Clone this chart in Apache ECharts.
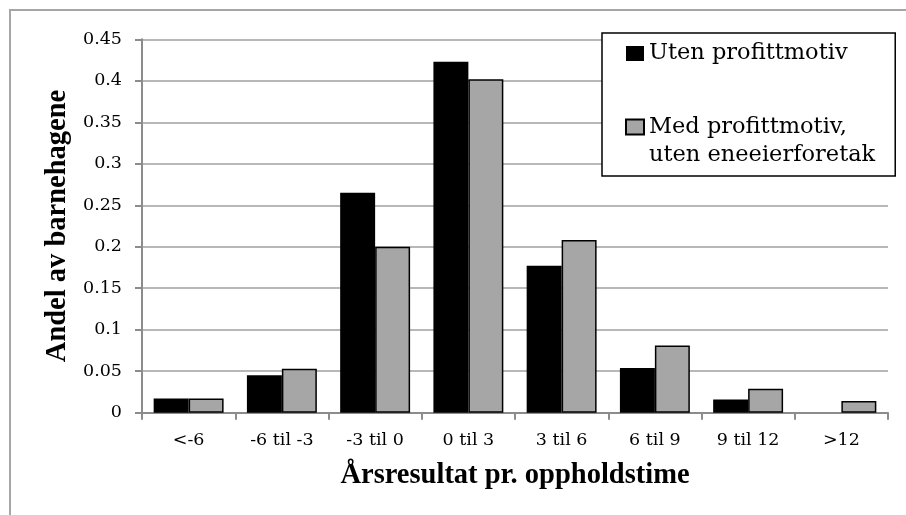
<!DOCTYPE html>
<html>
<head>
<meta charset="utf-8">
<script src="https://cdn.jsdelivr.net/npm/echarts@6/dist/echarts.min.js"></script>
<style>
html,body{margin:0;padding:0;background:#fff;}
#chart{width:906px;height:515px;}
</style>
</head>
<body>
<div id="chart"></div>
<script>
const categories = ['<-6', '-6 til -3', '-3 til 0', '0 til 3', '3 til 6', '6 til 9', '9 til 12', '>12'];
const utenProfitt = [0.017, 0.045, 0.265, 0.423, 0.177, 0.054, 0.016, 0];
const medProfitt = [0.017, 0.053, 0.200, 0.402, 0.208, 0.081, 0.029, 0.014];
const seriesNames = ['Uten profittmotiv', 'Med profittmotiv,\nuten eneeierforetak'];
const xTitle = 'Årsresultat pr. oppholdstime';
const yTitle = 'Andel av barnehagene';

const FONT = '"DejaVu Serif", serif';
const TITLE_FONT = '"Liberation Serif", serif';
const chart = echarts.init(document.getElementById('chart'), null, {renderer: 'canvas'});
chart.setOption({
  animation: false,
  backgroundColor: '#fff',
  textStyle: {fontFamily: FONT},
  graphic: [{
    type: 'polyline',
    shape: {points: [[10, 515], [10, 10], [906, 10]]},
    style: {stroke: '#a6a6a6', lineWidth: 2, fill: null},
    silent: true
  }],
  grid: {left: 142, right: 18, top: 39.3, bottom: 102.3, containLabel: false},
  legend: {
    orient: 'vertical',
    left: 602,
    top: 33,
    padding: [6.5, 20, 7, 23],
    itemGap: 17.5,
    itemWidth: 18,
    itemHeight: 15,
    backgroundColor: '#fff',
    borderColor: '#000',
    borderWidth: 1.5,
    borderRadius: 0,
    icon: 'rect',
    textStyle: {fontFamily: FONT, fontSize: 22.5, color: '#000', lineHeight: 28},
    formatter: function (name) {
      return name.indexOf('\n') >= 0 ? ' \n' + name : name;
    },
    data: seriesNames
  },
  xAxis: {
    type: 'category',
    data: categories,
    name: xTitle,
    nameLocation: 'middle',
    nameGap: 63,
    nameTextStyle: {fontFamily: TITLE_FONT, fontWeight: 'bold', fontSize: 28.5, color: '#000', verticalAlign: 'middle'},
    axisLine: {lineStyle: {color: '#8c8c8c', width: 2}},
    axisTick: {show: true, alignWithLabel: false, length: 7, lineStyle: {color: '#8c8c8c', width: 2}},
    axisLabel: {fontFamily: FONT, fontSize: 17.5, color: '#000', margin: 19},
    splitLine: {show: false}
  },
  yAxis: {
    type: 'value',
    min: 0,
    max: 0.45,
    interval: 0.05,
    name: yTitle,
    nameLocation: 'middle',
    nameRotate: 90,
    nameGap: 81,
    nameTextStyle: {fontFamily: TITLE_FONT, fontWeight: 'bold', fontSize: 28.5, color: '#000', verticalAlign: 'middle'},
    axisLine: {show: true, lineStyle: {color: '#8c8c8c', width: 2}},
    axisTick: {show: true, length: 7, lineStyle: {color: '#8c8c8c', width: 2}},
    axisLabel: {fontFamily: FONT, fontSize: 17.5, color: '#000', margin: 20},
    splitLine: {show: true, lineStyle: {color: '#a0a0a0', width: 1.5}}
  },
  series: [{
    name: seriesNames[0],
    type: 'bar',
    data: utenProfitt,
    barGap: '0%',
    barCategoryGap: '25%',
    itemStyle: {color: '#000', borderWidth: 0}
  }, {
    name: seriesNames[1],
    type: 'bar',
    data: medProfitt,
    barGap: '0%',
    barCategoryGap: '25%',
    itemStyle: {color: '#a6a6a6', borderColor: '#000', borderWidth: 1.5}
  }]
});
</script>
</body>
</html>
